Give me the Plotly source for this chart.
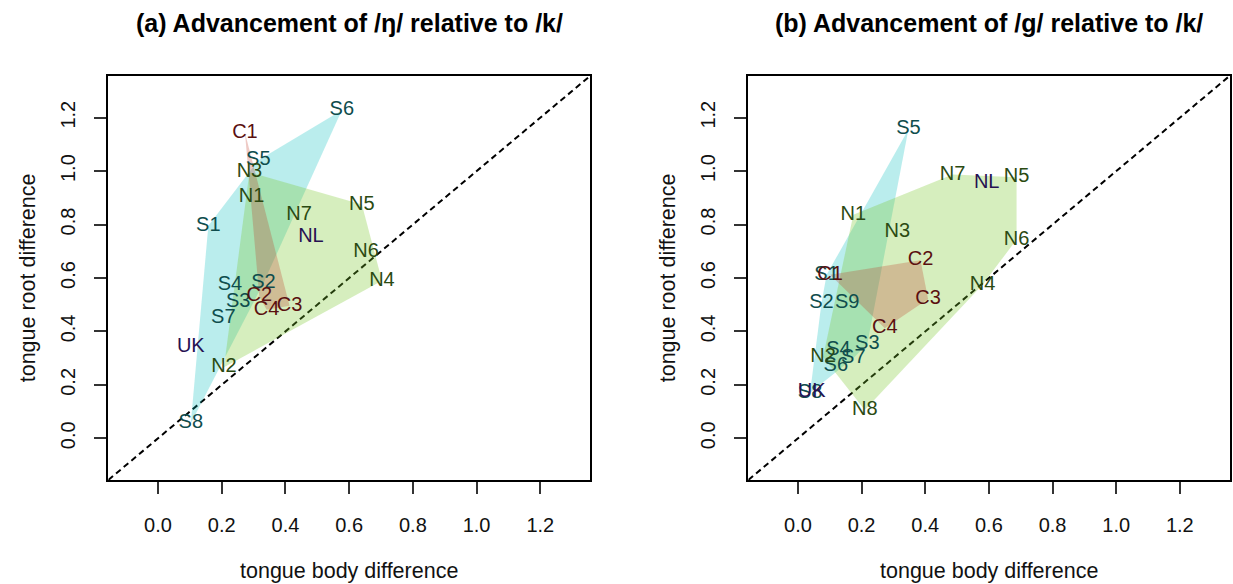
import plotly.graph_objects as go

# Speaker labels and their tongue body / tongue root differences
labels_a = ["S1", "S2", "S3", "S4", "S5", "S6", "S7", "S8",
            "N1", "N2", "N3", "N4", "N5", "N6", "N7",
            "C1", "C2", "C3", "C4", "UK", "NL"]
body_a = [0.158, 0.331, 0.252, 0.226, 0.315, 0.577, 0.205, 0.103,
          0.294, 0.207, 0.287, 0.703, 0.640, 0.653, 0.443,
          0.273, 0.318, 0.413, 0.341, 0.103, 0.480]
root_a = [0.796, 0.581, 0.512, 0.575, 1.041, 1.228, 0.450, 0.056,
          0.904, 0.266, 0.996, 0.590, 0.875, 0.697, 0.834,
          1.144, 0.531, 0.496, 0.481, 0.341, 0.752]

labels_b = ["S1", "S2", "S3", "S4", "S5", "S6", "S7", "S8", "S9",
            "N1", "N2", "N3", "N4", "N5", "N6", "N7", "N8",
            "C1", "C2", "C3", "C4", "UK", "NL"]
body_b = [0.090, 0.074, 0.218, 0.127, 0.347, 0.119, 0.174, 0.038, 0.155,
          0.174, 0.079, 0.312, 0.580, 0.687, 0.687, 0.486, 0.210,
          0.101, 0.385, 0.409, 0.273, 0.043, 0.593]
root_b = [0.612, 0.506, 0.354, 0.331, 1.156, 0.271, 0.300, 0.171, 0.508,
          0.837, 0.304, 0.771, 0.575, 0.977, 0.744, 0.987, 0.106,
          0.612, 0.666, 0.521, 0.412, 0.175, 0.954]

titles = ["<b>(a) Advancement of /ŋ/ relative to /k/</b>",
          "<b>(b) Advancement of /g/ relative to /k/</b>"]
tick_vals = [0.0, 0.2, 0.4, 0.6, 0.8, 1.0, 1.2]
tick_text = ["0.0", "0.2", "0.4", "0.6", "0.8", "1.0", "1.2"]

FONT = "Liberation Sans, Arial, Helvetica, sans-serif"
W, H = 1233, 584
AX_RANGE = [-0.156, 1.356]

GROUP_FILL = {"S": "rgba(0,190,190,0.27)",
              "N": "rgba(120,200,40,0.30)",
              "C": "rgba(190,50,30,0.26)"}
GROUP_TEXT = {"S": "#0f4d4d", "N": "#2b4a12", "C": "#5a1010",
              "UK": "#261152", "NL": "#261152"}
GROUP_ORDER = ["S", "N", "C"]


def convex_hull(pts):
    pts = sorted(set(pts))
    if len(pts) < 3:
        return pts

    def cross(o, a, b):
        return (a[0] - o[0]) * (b[1] - o[1]) - (a[1] - o[1]) * (b[0] - o[0])

    lower, upper = [], []
    for p in pts:
        while len(lower) >= 2 and cross(lower[-2], lower[-1], p) <= 0:
            lower.pop()
        lower.append(p)
    for p in reversed(pts):
        while len(upper) >= 2 and cross(upper[-2], upper[-1], p) <= 0:
            upper.pop()
        upper.append(p)
    return lower[:-1] + upper[:-1]


def group_of(lab):
    if lab in ("UK", "NL"):
        return lab
    return lab[0]


fig = go.Figure()

panels = [(labels_a, body_a, root_a, "x", "y"),
          (labels_b, body_b, root_b, "x2", "y2")]

for labs, xs, ys, xa, ya in panels:
    # reference diagonal
    fig.add_trace(go.Scatter(x=[-0.3, 1.5], y=[-0.3, 1.5], mode="lines",
                             line=dict(color="black", width=2, dash="6px,4px"),
                             xaxis=xa, yaxis=ya, hoverinfo="skip",
                             showlegend=False))
    # group hulls
    for g in GROUP_ORDER:
        pts = [(x, y) for lab, x, y in zip(labs, xs, ys) if group_of(lab) == g]
        hull = convex_hull(pts)
        hx = [p[0] for p in hull] + [hull[0][0]]
        hy = [p[1] for p in hull] + [hull[0][1]]
        fig.add_trace(go.Scatter(x=hx, y=hy, mode="lines", fill="toself",
                                 fillcolor=GROUP_FILL[g],
                                 line=dict(width=0, color="rgba(0,0,0,0)"),
                                 xaxis=xa, yaxis=ya, hoverinfo="skip",
                                 showlegend=False))
    # speaker labels
    fig.add_trace(go.Scatter(x=xs, y=ys, mode="text", text=labs,
                             textposition="middle center",
                             textfont=dict(family=FONT, size=20,
                                           color=[GROUP_TEXT[group_of(l)] for l in labs]),
                             xaxis=xa, yaxis=ya, showlegend=False))

x_dom = [[108.3 / W, 590 / W], [748.3 / W, 1229.5 / W]]
y_dom = [1 - 480 / H, 1 - 76 / H]

axis_common = dict(range=AX_RANGE, showgrid=False, zeroline=False,
                   showline=True, mirror=True, linecolor="black", linewidth=2,
                   ticks="outside", ticklen=12, tickwidth=1.5, tickcolor="#333",
                   tickvals=tick_vals, ticktext=tick_text,
                   tickfont=dict(family=FONT, size=20, color="#111"))

fig.update_layout(
    width=W, height=H,
    margin=dict(l=0, r=0, t=0, b=0),
    paper_bgcolor="white", plot_bgcolor="white",
    xaxis=dict(domain=x_dom[0], anchor="y", ticklabelstandoff=14, **axis_common),
    yaxis=dict(domain=y_dom, anchor="x", tickangle=-90, ticklabelstandoff=11, **axis_common),
    xaxis2=dict(domain=x_dom[1], anchor="y2", ticklabelstandoff=14, **axis_common),
    yaxis2=dict(domain=y_dom, anchor="x2", tickangle=-90, ticklabelstandoff=11, **axis_common),
)

annotations = []
for i in range(2):
    cx = (x_dom[i][0] + x_dom[i][1]) / 2
    annotations.append(dict(text=titles[i], x=cx, y=1 - 23 / H, xref="paper", yref="paper",
                            showarrow=False, xanchor="center", yanchor="middle",
                            font=dict(family=FONT, size=25, color="black")))
    annotations.append(dict(text="tongue body difference", x=cx, y=1 - 571 / H,
                            xref="paper", yref="paper", showarrow=False,
                            xanchor="center", yanchor="middle",
                            font=dict(family=FONT, size=21.5, color="#111")))
    annotations.append(dict(text="tongue root difference", x=(x_dom[i][0] * W - 80) / W,
                            y=(y_dom[0] + y_dom[1]) / 2, xref="paper", yref="paper",
                            showarrow=False, textangle=-90, xanchor="center",
                            yanchor="middle",
                            font=dict(family=FONT, size=21.5, color="#111")))
fig.update_layout(annotations=annotations)

fig.write_html("out.html")
